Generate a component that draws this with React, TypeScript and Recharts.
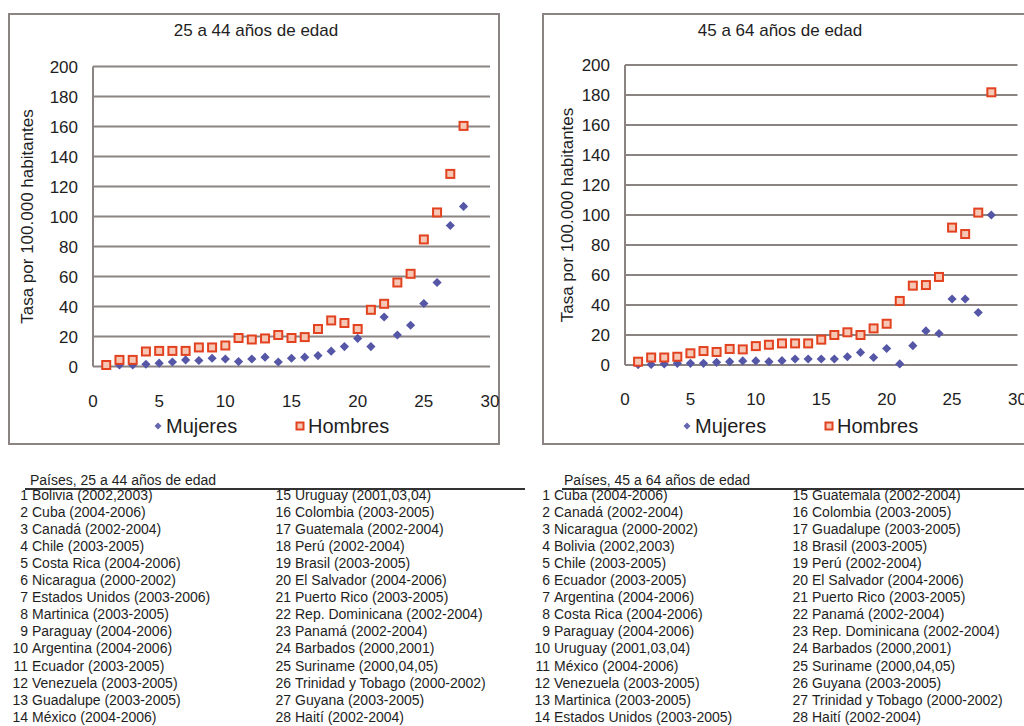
import React from "react";
import { ScatterChart, Scatter, XAxis, YAxis, CartesianGrid, Legend, Label } from "recharts";

// ---------- data ----------
const paises2544: string[] = [
  "Bolivia (2002,2003)", "Cuba (2004-2006)", "Canadá (2002-2004)", "Chile (2003-2005)",
  "Costa Rica (2004-2006)", "Nicaragua (2000-2002)", "Estados Unidos (2003-2006)", "Martinica (2003-2005)",
  "Paraguay (2004-2006)", "Argentina (2004-2006)", "Ecuador (2003-2005)", "Venezuela (2003-2005)",
  "Guadalupe (2003-2005)", "México (2004-2006)", "Uruguay (2001,03,04)", "Colombia (2003-2005)",
  "Guatemala (2002-2004)", "Perú (2002-2004)", "Brasil (2003-2005)", "El Salvador (2004-2006)",
  "Puerto Rico (2003-2005)", "Rep. Dominicana (2002-2004)", "Panamá (2002-2004)", "Barbados (2000,2001)",
  "Suriname (2000,04,05)", "Trinidad y Tobago (2000-2002)", "Guyana (2003-2005)", "Haití (2002-2004)",
];
const paises4564: string[] = [
  "Cuba (2004-2006)", "Canadá (2002-2004)", "Nicaragua (2000-2002)", "Bolivia (2002,2003)",
  "Chile (2003-2005)", "Ecuador (2003-2005)", "Argentina (2004-2006)", "Costa Rica (2004-2006)",
  "Paraguay (2004-2006)", "Uruguay (2001,03,04)", "México (2004-2006)", "Venezuela (2003-2005)",
  "Martinica (2003-2005)", "Estados Unidos (2003-2005)", "Guatemala (2002-2004)", "Colombia (2003-2005)",
  "Guadalupe (2003-2005)", "Brasil (2003-2005)", "Perú (2002-2004)", "El Salvador (2004-2006)",
  "Puerto Rico (2003-2005)", "Panamá (2002-2004)", "Rep. Dominicana (2002-2004)", "Barbados (2000,2001)",
  "Suriname (2000,04,05)", "Guyana (2003-2005)", "Trinidad y Tobago (2000-2002)", "Haití (2002-2004)",
];

const mujeres2544: number[] = [0.5, 1, 1, 1.5, 2.2, 3, 4.4, 4, 5.5, 5, 3.3, 5, 6.2, 3, 5.5, 6.2, 7.3, 10.2, 13.3, 18.7, 13.3, 33, 21, 27.5, 42, 56, 94, 106.7];
const hombres2544: number[] = [1, 4.4, 4.4, 10, 10.4, 10.4, 10.4, 12.7, 12.7, 14, 19, 18, 18.7, 21, 19, 19.6, 25, 30.7, 29, 25, 37.8, 41.8, 56, 61.8, 84.7, 102.7, 128.4, 160.4];
const mujeres4564: number[] = [0.3, 0.4, 0.7, 1.1, 1.1, 1.1, 1.8, 2.2, 2.7, 2.7, 2.2, 2.9, 4, 4, 4, 4, 5.5, 8.4, 5, 11, 0.7, 12.9, 22.7, 21, 44, 44, 35, 100];
const hombres4564: number[] = [2.2, 5, 5, 5.5, 7.8, 9.3, 8.7, 10.7, 10.4, 12.6, 13.5, 14.4, 14.4, 14.4, 16.9, 20, 21.8, 20, 24.4, 27.5, 42.7, 52.9, 53.3, 58.7, 91.6, 87.3, 101.6, 181.8];

const xTicks: number[] = [0, 5, 10, 15, 20, 25, 30];
const yTicks: number[] = [0, 20, 40, 60, 80, 100, 120, 140, 160, 180, 200];

const toPoints = (vals: number[]) => vals.map((y, i) => ({ x: i + 1, y }));

// ---------- styles ----------
const FONT = "'Liberation Sans', Arial, sans-serif";
const GRID = "#8c8482";
const PURPLE = "#5557a6";
const RED = "#e2421f";
const REDFILL = "#f6c7b4";
const TEXT = "#1e1e1e";

const Diamond = (props: any) => {
  const { cx, cy } = props;
  const r = 4.6;
  return <path d={`M${cx},${cy - r}L${cx + r},${cy}L${cx},${cy + r}L${cx - r},${cy}Z`} fill={PURPLE} />;
};
const Square = (props: any) => {
  const { cx, cy } = props;
  return <rect x={cx - 4} y={cy - 4} width={8} height={8} fill={REDFILL} stroke={RED} strokeWidth={2} />;
};

type PanelProps = {
  left: number;
  title: string;
  titleX: number;
  mujeres: number[];
  hombres: number[];
  margin: { top: number; right: number; left: number; bottom: number };
  yWidth: number;
  labelDx: number;
  legendX: [number, number];
};

const CW = 492;
const CH = 432;

function Panel(p: PanelProps) {
  const legendContent = (props: any) => {
    const payload = props.payload || [];
    return (
      <div style={{ position: "relative", width: CW, height: 24, fontFamily: FONT, fontSize: 20, color: TEXT }}>
        {payload.map((e: any, i: number) => {
          const isM = e.value === "Mujeres";
          const cx = isM ? p.legendX[0] : p.legendX[1];
          return (
            <div key={i} style={{ position: "absolute", left: cx - 5, top: 0, height: 24, lineHeight: "24px", whiteSpace: "nowrap", display: "flex", alignItems: "center" }}>
              <svg width={10} height={10} style={{ marginRight: 3 }}>
                {isM ? (
                  <path d="M5,1.5L8.5,5L5,8.5L1.5,5Z" fill="#6466b0" />
                ) : (
                  <rect x={1.5} y={1.5} width={7} height={7} fill={REDFILL} stroke={RED} strokeWidth={2} />
                )}
              </svg>
              <span>{e.value}</span>
            </div>
          );
        })}
      </div>
    );
  };
  return (
    <>
      <div style={{ position: "absolute", left: p.left, top: 13, width: CW, height: CH, border: `2px solid ${GRID}`, boxSizing: "border-box" }} />
      <div style={{ position: "absolute", left: p.left + p.titleX - 150, top: 21, width: 300, textAlign: "center", fontFamily: FONT, fontSize: 17, color: TEXT, lineHeight: "20px" }}>
        {p.title}
      </div>
      <div style={{ position: "absolute", left: p.left, top: 13 }}>
        <ScatterChart width={CW} height={CH} margin={p.margin}>
          <CartesianGrid horizontal={true} vertical={false} stroke={GRID} strokeWidth={2} />
          <XAxis
            type="number"
            dataKey="x"
            domain={[0, 30]}
            ticks={xTicks}
            axisLine={false}
            tickLine={false}
            tickSize={0}
            tickMargin={28}
            height={50}
            tick={{ fill: TEXT, fontSize: 17, fontFamily: FONT }}
            allowDataOverflow
          />
          <YAxis
            type="number"
            dataKey="y"
            domain={[0, 200]}
            ticks={yTicks}
            width={p.yWidth}
            axisLine={{ stroke: GRID, strokeWidth: 2 }}
            tickLine={false}
            tickSize={0}
            tickMargin={15}
            tick={{ fill: TEXT, fontSize: 17, fontFamily: FONT }}
          >
            <Label value="Tasa por 100.000 habitantes" angle={-90} position="center" dx={p.labelDx} style={{ fill: TEXT, fontSize: 17, fontFamily: FONT }} />
          </YAxis>
          <Legend
            layout="horizontal"
            verticalAlign="middle"
            align="center"
            wrapperStyle={{ top: 401, left: 0, width: CW, height: 24 }}
            content={legendContent}
          />
          <Scatter name="Mujeres" data={toPoints(p.mujeres)} shape={Diamond} isAnimationActive={false} />
          <Scatter name="Hombres" data={toPoints(p.hombres)} shape={Square} isAnimationActive={false} />
        </ScatterChart>
      </div>
    </>
  );
}

type TableProps = {
  header: string;
  headerX: number;
  lineX1: number;
  lineX2: number;
  names: string[];
  col1: number; // right edge of numbers col 1
  col2: number; // right edge of numbers col 2
};

function Table(t: TableProps) {
  const rowStyle = (i: number): React.CSSProperties => ({
    position: "absolute",
    top: 486.5 + 17.1 * (i % 14),
    height: 17,
    lineHeight: "17px",
    whiteSpace: "nowrap",
  });
  return (
    <div style={{ fontFamily: FONT, fontSize: 14, color: TEXT }}>
      <div style={{ position: "absolute", left: t.headerX, top: 472, lineHeight: "17px", whiteSpace: "nowrap" }}>{t.header}</div>
      <div style={{ position: "absolute", left: t.lineX1, top: 488, width: t.lineX2 - t.lineX1, height: 1.5, background: "#333" }} />
      {t.names.map((n, i) => {
        const right = i < 14 ? t.col1 : t.col2;
        return (
          <div key={i} style={{ ...rowStyle(i), left: right - 30 }}>
            <span style={{ display: "inline-block", width: 30, textAlign: "right" }}>{i + 1}</span>
            <span style={{ marginLeft: 4 }}>{n}</span>
          </div>
        );
      })}
    </div>
  );
}

export default function App() {
  return (
    <div style={{ position: "absolute", left: 0, top: 0, width: 1024, height: 726, overflow: "hidden", background: "#fff" }}>
      <Panel
        left={8}
        title="25 a 44 años de edad"
        titleX={248}
        mujeres={mujeres2544}
        hombres={hombres2544}
        margin={{ top: 53.5, right: 10, left: 0, bottom: 28.5 }}
        yWidth={85}
        labelDx={-23.5}
        legendX={[150, 292]}
      />
      <Panel
        left={542}
        title="45 a 64 años de edad"
        titleX={238}
        mujeres={mujeres4564}
        hombres={hombres4564}
        margin={{ top: 52, right: 16.5, left: 0, bottom: 30 }}
        yWidth={83}
        labelDx={-16.5}
        legendX={[145, 287]}
      />
      <Table header="Países, 25 a 44 años de edad" headerX={30} lineX1={25} lineX2={525} names={paises2544} col1={28} col2={291} />
      <Table header="Países, 45 a 64 años de edad" headerX={564} lineX1={562} lineX2={1024} names={paises4564} col1={550} col2={808} />
    </div>
  );
}
